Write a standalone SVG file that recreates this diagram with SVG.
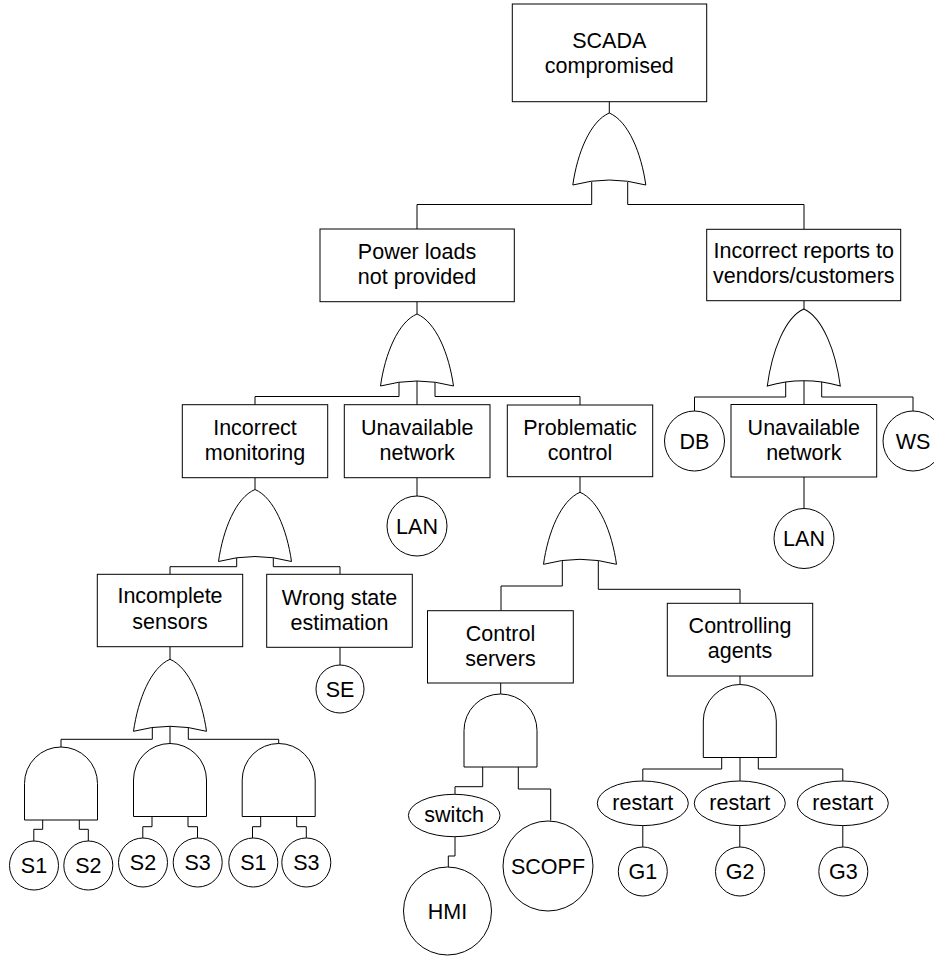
<svg xmlns="http://www.w3.org/2000/svg" width="934" height="956" viewBox="0 0 934 956">
  <defs>
    <style>
      .box, .ev, .gate { fill: #fff; stroke: #000; stroke-width: 1; }
      .wire { fill: none; stroke: #000; stroke-width: 1; }
      text { font-family: "Liberation Sans", Arial, sans-serif; font-size: 21.5px; fill: #000; text-anchor: middle; }
    </style>
    <!-- OR gate, origin at apex, 73 wide x 72 tall -->
    <path id="orGate" class="gate" d="M0,0 C-19,8 -32,40 -36.5,72 Q0,62 36.5,72 C32,40 19,8 0,0 Z"/>
    <!-- AND gate, origin at top-centre of dome, 73 wide x 73 tall -->
    <path id="andGate" class="gate" d="M-36.5,73 L-36.5,36.5 A36.5,36.5 0 0 1 36.5,36.5 L36.5,73 Z"/>
  </defs>
  <rect width="934" height="956" fill="#fff"/>

  <!-- connectors -->
  <g id="connectors" class="wire">
    <path d="M609.3,101.7 V113"/>
    <path d="M591.7,182 V204.5 H417 V229"/>
    <path d="M627.7,182 V204.5 H804 V229"/>
    <path d="M417,302 V314"/>
    <path d="M399,382 V396.5 H255 V405"/>
    <path d="M417,381 V405"/>
    <path d="M435,382 V396.5 H580 V405"/>
    <path d="M804,301 V309"/>
    <path d="M785.7,382 V397 H694.5 V411"/>
    <path d="M804,381 V404.5"/>
    <path d="M821.7,382 V397 H913 V411"/>
    <path d="M804,477 V508.5"/>
    <path d="M417,478 V496"/>
    <path d="M255,478 V489.3"/>
    <path d="M236.7,558 V566.7 H170 V574.3"/>
    <path d="M273.3,558 V566.7 H340 V574.3"/>
    <path d="M340,647.3 V665"/>
    <path d="M170,646.7 V659.3"/>
    <path d="M152.3,727 V739.3 H61 V747"/>
    <path d="M170,726 V744"/>
    <path d="M188.3,727 V739.3 H278.7 V745"/>
    <path d="M42.7,820 V829.3 H33.8 V841"/>
    <path d="M79.3,820 V829.3 H88.3 V841"/>
    <path d="M152,816 V826.7 H142.8 V838.3"/>
    <path d="M188,816 V826.7 H197.5 V838.3"/>
    <path d="M260.7,816 V826.7 H252.5 V838.3"/>
    <path d="M296.7,816 V826.7 H306.3 V838.3"/>
    <path d="M580,477 V492.3"/>
    <path d="M562.3,561 V586 H501 V610.7"/>
    <path d="M598.3,561 V589.3 H740 V603.3"/>
    <path d="M500.7,683 V694"/>
    <path d="M482.7,767 V786.7 H455 V794.3"/>
    <path d="M518.3,767 V789 H550.7 V820.5"/>
    <path d="M455,836.7 V856 H448.3 V867"/>
    <path d="M740,676 V685"/>
    <path d="M721.7,757.3 V769 H642.8 V781"/>
    <path d="M740,757.3 V781"/>
    <path d="M758.3,757.3 V769 H842.8 V781"/>
    <path d="M642.8,825.6 V847"/>
    <path d="M739.8,825.6 V847"/>
    <path d="M842.8,825.6 V847"/>
  </g>

  <!-- gates -->
  <g id="gates">
    <use id="or-top" href="#orGate" x="609.3" y="113"/>
    <use id="or-power" href="#orGate" x="417" y="314"/>
    <g id="or-reports" transform="translate(803.8,309) scale(1,1.07)"><use href="#orGate"/></g>
    <use id="or-monitoring" href="#orGate" x="255" y="489.5"/>
    <use id="or-control" href="#orGate" x="580" y="492.3"/>
    <use id="or-sensors" href="#orGate" x="170" y="659.3"/>
    <use id="and-s12" href="#andGate" x="61" y="747"/>
    <use id="and-s23" href="#andGate" x="170" y="743.5"/>
    <use id="and-s13" href="#andGate" x="278.7" y="743.5"/>
    <use id="and-servers" href="#andGate" x="500.5" y="694"/>
    <use id="and-agents" href="#andGate" x="739.8" y="684.5"/>
  </g>

  <!-- intermediate events -->
  <g id="n-scada"><rect class="box" x="512.3" y="4" width="194.4" height="97.7"/><text x="609.3" y="48">SCADA</text><text x="609.3" y="73">compromised</text></g>
  <g id="n-power"><rect class="box" x="320" y="229" width="194.3" height="72.7"/><text x="417" y="259.3">Power loads</text><text x="417" y="284">not provided</text></g>
  <g id="n-reports"><rect class="box" x="706.7" y="229.3" width="194" height="71.4"/><text x="803.8" y="258.3">Incorrect reports to</text><text x="803.8" y="283.3">vendors/customers</text></g>
  <g id="n-monitoring"><rect class="box" x="182.3" y="404.7" width="145.4" height="73"/><text x="255" y="435">Incorrect</text><text x="255" y="460">monitoring</text></g>
  <g id="n-network1"><rect class="box" x="344.3" y="404.7" width="145.7" height="73"/><text x="417.2" y="435">Unavailable</text><text x="417.2" y="460">network</text></g>
  <g id="n-control"><rect class="box" x="507.3" y="405" width="145.4" height="71.7"/><text x="580" y="434.5">Problematic</text><text x="580" y="460">control</text></g>
  <g id="n-network2"><rect class="box" x="731" y="404.5" width="145.7" height="72.5"/><text x="803.8" y="435">Unavailable</text><text x="803.8" y="460">network</text></g>
  <g id="n-sensors"><rect class="box" x="97.3" y="574.3" width="145.4" height="72.4"/><text x="170" y="603.3">Incomplete</text><text x="170" y="629">sensors</text></g>
  <g id="n-estimation"><rect class="box" x="266.7" y="574.3" width="145.6" height="73"/><text x="339.5" y="605">Wrong state</text><text x="339.5" y="629.5">estimation</text></g>
  <g id="n-servers"><rect class="box" x="427.5" y="610.7" width="145.8" height="72.3"/><text x="500.5" y="640.7">Control</text><text x="500.5" y="665.7">servers</text></g>
  <g id="n-agents"><rect class="box" x="667.3" y="603.3" width="145.4" height="72.7"/><text x="740" y="633.3">Controlling</text><text x="740" y="657.5">agents</text></g>

  <!-- basic events -->
  <g id="n-db"><circle class="ev" cx="694.5" cy="441" r="30"/><text x="694.5" y="448.5">DB</text></g>
  <g id="n-ws"><circle class="ev" cx="913" cy="441" r="30"/><text x="913" y="448.5">WS</text></g>
  <g id="n-lan1"><circle class="ev" cx="417" cy="526" r="30"/><text x="417" y="533.5">LAN</text></g>
  <g id="n-lan2"><circle class="ev" cx="804" cy="538.5" r="30"/><text x="804" y="546">LAN</text></g>
  <g id="n-se"><circle class="ev" cx="340" cy="689" r="24"/><text x="340" y="696.5">SE</text></g>
  <g id="n-s1a"><circle class="ev" cx="34" cy="865.5" r="24.5"/><text x="34" y="873">S1</text></g>
  <g id="n-s2a"><circle class="ev" cx="88.3" cy="865.5" r="24.5"/><text x="88.3" y="873">S2</text></g>
  <g id="n-s2b"><circle class="ev" cx="143" cy="862.5" r="24.5"/><text x="143" y="870">S2</text></g>
  <g id="n-s3a"><circle class="ev" cx="197.7" cy="862.5" r="24.5"/><text x="197.7" y="870">S3</text></g>
  <g id="n-s1b"><circle class="ev" cx="253.3" cy="862.5" r="24.5"/><text x="253.3" y="870">S1</text></g>
  <g id="n-s3b"><circle class="ev" cx="306.3" cy="862.5" r="24.5"/><text x="306.3" y="870">S3</text></g>
  <g id="n-switch"><ellipse class="ev" cx="454.2" cy="815.5" rx="45.8" ry="21.2"/><text x="454.2" y="822">switch</text></g>
  <g id="n-hmi"><circle class="ev" cx="447.5" cy="911" r="44"/><text x="447.5" y="918.5">HMI</text></g>
  <g id="n-scopf"><circle class="ev" cx="548" cy="866" r="45"/><text x="548" y="873.5">SCOPF</text></g>
  <g id="n-restart1"><ellipse class="ev" cx="642.8" cy="803.3" rx="45.5" ry="22.3"/><text x="642.8" y="809.5">restart</text></g>
  <g id="n-restart2"><ellipse class="ev" cx="739.8" cy="803.3" rx="45.5" ry="22.3"/><text x="739.8" y="809.5">restart</text></g>
  <g id="n-restart3"><ellipse class="ev" cx="842.8" cy="803.3" rx="45.5" ry="22.3"/><text x="842.8" y="809.5">restart</text></g>
  <g id="n-g1"><circle class="ev" cx="642.8" cy="871.5" r="24.5"/><text x="642.8" y="879">G1</text></g>
  <g id="n-g2"><circle class="ev" cx="740" cy="871.5" r="24.5"/><text x="740" y="879">G2</text></g>
  <g id="n-g3"><circle class="ev" cx="843.3" cy="871.5" r="24.5"/><text x="843.3" y="879">G3</text></g>
</svg>
